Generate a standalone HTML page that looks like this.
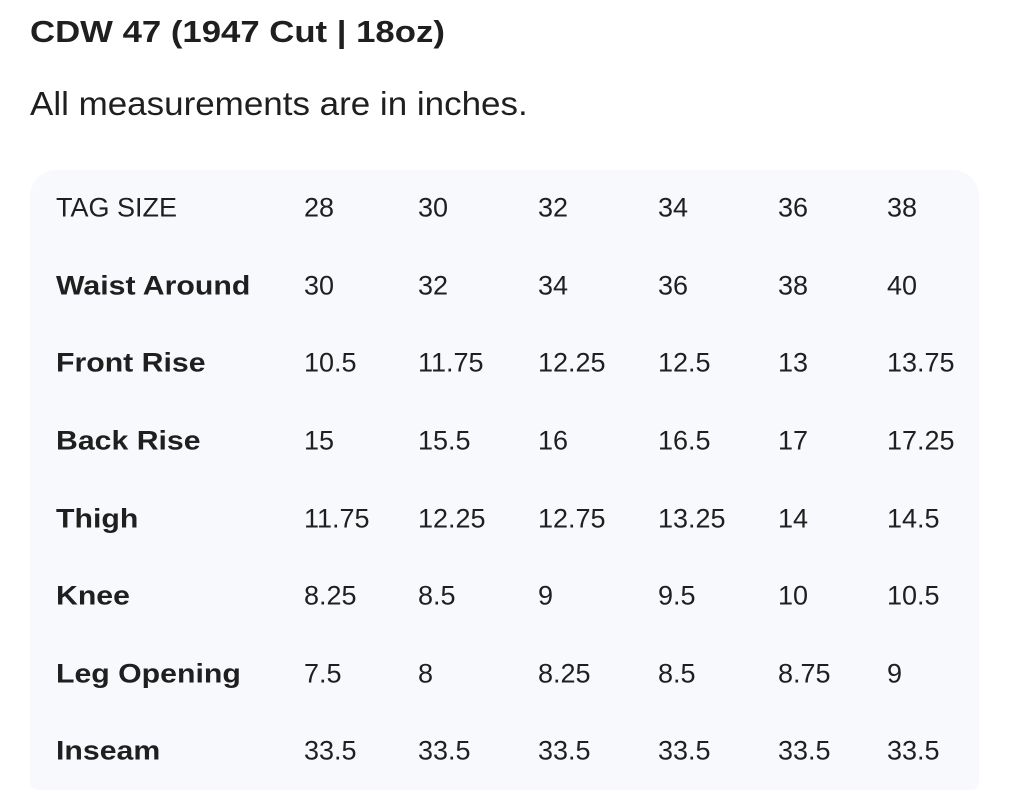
<!DOCTYPE html>
<html><head><style>
body{margin:0;width:1024px;height:803px;background:#fff;font-family:"Liberation Sans",sans-serif;color:#1f1f1f;position:relative;overflow:hidden}
.t{position:absolute;white-space:nowrap;line-height:1;transform-origin:left center}
#box{position:absolute;left:30px;top:170px;width:949px;height:620px;background:#f8f9fc;border-radius:26px 26px 8px 8px}
.c{position:absolute;font-size:27px;line-height:1;transform:translateY(-50%);white-space:nowrap;transform-origin:left center}
.b{font-weight:bold;transform:translateY(-50%) scaleX(1.12)}
</style></head><body>
<div class="t" style="left:30px;top:16px;font-size:31px;font-weight:bold;transform:scaleX(1.12)">CDW 47 (1947 Cut | 18oz)</div>
<div class="t" style="left:30px;top:87px;font-size:33px;transform:scaleX(1.06)">All measurements are in inches.</div>
<div id="box"></div>
<div id="rows"></div>
<script>
var rows=[["TAG SIZE","28","30","32","34","36","38"],["Waist Around","30","32","34","36","38","40"],["Front Rise","10.5","11.75","12.25","12.5","13","13.75"],["Back Rise","15","15.5","16","16.5","17","17.25"],["Thigh","11.75","12.25","12.75","13.25","14","14.5"],["Knee","8.25","8.5","9","9.5","10","10.5"],["Leg Opening","7.5","8","8.25","8.5","8.75","9"],["Inseam","33.5","33.5","33.5","33.5","33.5","33.5"]];
var xs=[56,304,418,538,658,778,887],ys=[208,286,363,441,519,596,674,751],h="";
rows.forEach(function(r,i){r.forEach(function(v,j){h+='<div class="c'+(j==0&&i>0?' b':'')+'" style="left:'+xs[j]+'px;top:'+ys[i]+'px">'+v+'</div>';});});
document.getElementById("rows").innerHTML=h;
</script>
</body></html>
